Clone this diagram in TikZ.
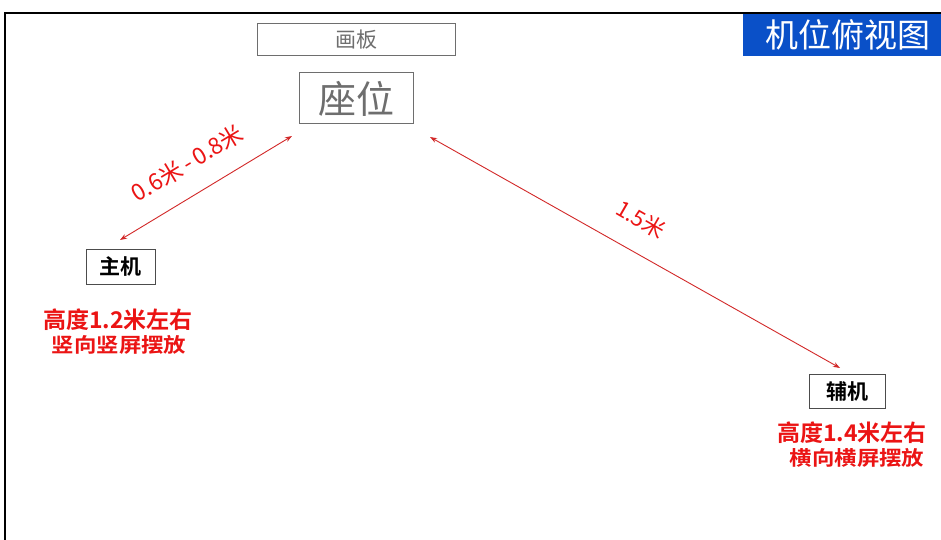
\documentclass[tikz,border=0pt]{standalone}
\usepackage{fontspec}
\setmainfont{Noto Sans CJK SC}
\newfontfamily\cjk{Noto Sans CJK SC}
\newfontfamily\cjkb{Noto Sans CJK SC Bold}
\definecolor{myred}{RGB}{235,20,20}
\definecolor{linered}{RGB}{210,40,40}
\definecolor{myblue}{RGB}{10,80,200}
\definecolor{mygray}{RGB}{110,110,110}
\usetikzlibrary{arrows.meta}
\begin{document}
\begin{tikzpicture}[x=1pt,y=-1pt,
  graybox/.style={draw=mygray,line width=1pt,text=mygray,inner sep=0pt},
  blackbox/.style={draw=black!70,line width=1pt,text=black,inner sep=0pt},
  redtxt/.style={text=myred,font=\cjkb\fontsize{23}{26}\selectfont},
  redtxts/.style={text=myred,font=\cjkb\fontsize{20}{23}\selectfont,xscale=1.12},
  dim/.style={draw=linered,line width=0.9pt,{Stealth[length=7pt,width=5pt]}-{Stealth[length=7pt,width=5pt]}}]
\useasboundingbox (0,0) rectangle (941,540);
\fill[white] (0,0) rectangle (941,540);
% frame
\draw[line width=2pt] (5,540) -- (5,13) -- (941,13);
% title
\node[fill=myblue,text=white,minimum width=198pt,minimum height=42pt,inner sep=0pt,anchor=north west,font=\cjk\fontsize{33}{36}\selectfont] (title) at (743,14) {\hspace*{12pt}机位俯视图};
% boxes
\node[graybox,minimum width=198pt,minimum height=32pt,font=\cjk\fontsize{21}{24}\selectfont] (huaban) at (356,40) {画板};
\node[graybox,minimum width=114pt,minimum height=51pt,font=\cjk\fontsize{38}{42}\selectfont] (seat) at (356,98.5) {座位};
\node[blackbox,minimum width=69pt,minimum height=35pt,font=\cjkb\fontsize{21}{24}\selectfont] (main) at (120.5,266.5) {主机};
\node[blackbox,minimum width=76pt,minimum height=34pt,font=\cjkb\fontsize{21}{24}\selectfont] (aux) at (847,391) {辅机};
% arrows
\coordinate (a1) at (120,240);
\coordinate (a2) at (292,136);
\coordinate (b1) at (430,137);
\coordinate (b2) at (840,368);
\draw[dim] (a1) -- (a2);
\draw[dim] (b1) -- (b2);
\node[text=myred,rotate=31,font=\cjk\fontsize{23}{26}\selectfont] (l1) at (187,163) {0.6米\,-\,0.8米};
\node[text=myred,rotate=-30,font=\cjk\fontsize{22}{26}\selectfont] (l2) at (641,219) {1.5米};
% red notes
\node[redtxt] (n1) at (118,320) {高度1.2米左右};
\node[redtxts] (n2) at (119,345) {竖向竖屏摆放};
\node[redtxt] (n3) at (852,433) {高度1.4米左右};
\node[redtxts] (n4) at (857,458) {横向横屏摆放};
\end{tikzpicture}
\end{document}
